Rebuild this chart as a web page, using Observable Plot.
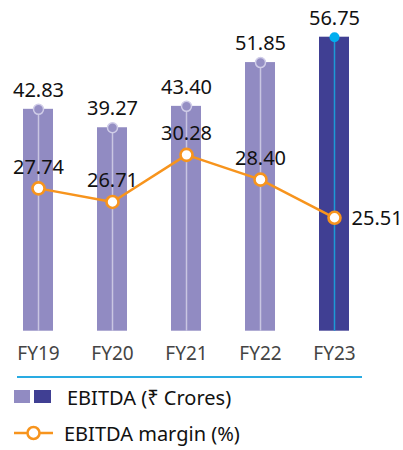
<!DOCTYPE html>
<html>
<head>
<meta charset="utf-8">
<script src="https://cdn.jsdelivr.net/npm/d3@7"></script>
<script src="https://cdn.jsdelivr.net/npm/@observablehq/plot@0.6"></script>
<style>
  html, body { margin: 0; padding: 0; background: #fff; }
  body { width: 403px; height: 450px; overflow: hidden; font-family: "Noto Sans", sans-serif; }
  #chart svg { display: block; }
  .rule { margin-left: 17px; width: 345px; height: 0; border-top: 2px solid #29abe2; }
  .legend { position: relative; height: 72px; color: #111; font-size: 20px; }
  .row { position: absolute; left: 0; display: flex; align-items: center; }
</style>
</head>
<body>
<div id="chart"></div>
<div class="rule"></div>
<div class="legend" id="legend"></div>
<script>
const years = ["FY19", "FY20", "FY21", "FY22", "FY23"];
const ebitda = [42.83, 39.27, 43.40, 51.85, 56.75];
const margin = [27.74, 26.71, 30.28, 28.40, 25.51];
const highlight = ["FY23"];

const colLight = "#918bc2";
const colDark = "#403f93";
const colOrange = "#f7941d";

const data = years.map((y, i) => ({year: y, ebitda: ebitda[i], margin: margin[i], hi: highlight.includes(y)}));

// second (margin) axis mapped onto the bar axis
const mScale = d3.scaleLinear().domain([16.92, 39.19]).range([0, d3.max(ebitda)]);
const lineData = data.map(d => ({...d, my: mScale(d.margin)}));

const plot = Plot.plot({
  width: 403,
  height: 376,
  marginTop: 36.7,
  marginBottom: 45.3,
  marginLeft: 0,
  marginRight: 0,
  style: {fontFamily: "Noto Sans, sans-serif", background: "#fff"},
  x: {domain: years, range: [22, 350], paddingInner: 0.597, paddingOuter: 0, axis: null},
  y: {domain: [0, d3.max(ebitda)], axis: null},
  marks: [
    Plot.barY(data, {x: "year", y: "ebitda", fill: d => d.hi ? colDark : colLight}),
    Plot.ruleX(data, {x: "year", y1: 0, y2: "ebitda", stroke: d => d.hi ? "#1c9ad6" : "#c9c6e2", strokeWidth: 1.5}),
    Plot.dot(data, {x: "year", y: "ebitda", r: 5, fill: d => d.hi ? "#00aeef" : "#958fc4", stroke: d => d.hi ? "none" : "#d0cde8", strokeWidth: 1.5}),
    Plot.text(data, {x: "year", y: "ebitda", text: d => d.ebitda.toFixed(2), dy: -19, fontSize: 20, fill: "#111", lineAnchor: "middle"}),
    Plot.line(lineData, {x: "year", y: "my", stroke: colOrange, strokeWidth: 2.5}),
    Plot.dot(lineData, {x: "year", y: "my", r: 6, fill: "#fff", stroke: colOrange, strokeWidth: 2.6}),
    Plot.text(lineData.filter(d => !d.hi), {x: "year", y: "my", text: d => d.margin.toFixed(2), dy: -21, fontSize: 20, fill: "#111", lineAnchor: "middle"}),
    Plot.text(lineData.filter(d => d.hi), {x: "year", y: "my", text: d => d.margin.toFixed(2), dx: 17, dy: 1, textAnchor: "start", fontSize: 20, fill: "#111", lineAnchor: "middle"}),
    Plot.text(data, {x: "year", frameAnchor: "bottom", text: "year", dy: 23, fontSize: 19, fill: "#444", lineAnchor: "middle"})
  ]
});
document.getElementById("chart").append(plot);

const legend = document.getElementById("legend");
legend.innerHTML = `
  <div class="row" style="top:12px;left:14px;height:13px;">
    <span style="display:inline-block;width:16px;height:13px;background:${colLight}"></span>
    <span style="display:inline-block;width:17px;height:13px;background:${colDark};margin-left:4px"></span>
  </div>
  <div class="row" style="top:6px;left:67px;height:26px;">EBITDA (₹ Crores)</div>
  <div class="row" style="top:42px;left:14px;height:26px;">
    <svg width="40" height="16"><line x1="0" y1="8" x2="39" y2="8" stroke="${colOrange}" stroke-width="2.5"/><circle cx="19.5" cy="8" r="6" fill="#fff" stroke="${colOrange}" stroke-width="2.5"/></svg>
  </div>
  <div class="row" style="top:42px;left:64px;height:26px;">EBITDA margin (%)</div>
`;
</script>
</body>
</html>
